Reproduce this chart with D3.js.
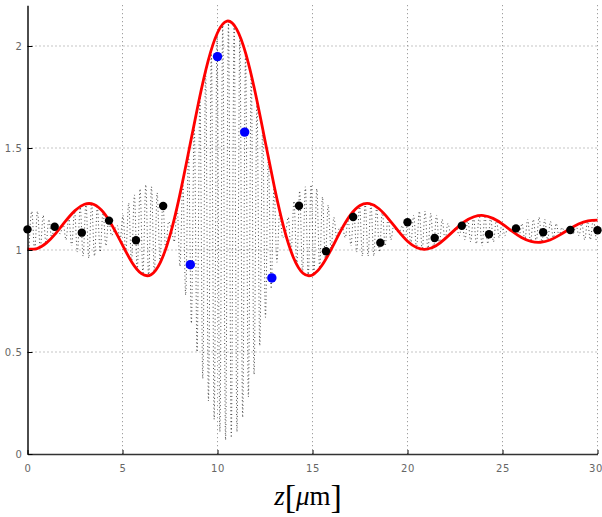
<!DOCTYPE html>
<html><head><meta charset="utf-8"><script src="https://cdn.jsdelivr.net/npm/d3@7"></script>
<style>html,body{margin:0;padding:0;background:#fff}svg{display:block}</style></head>
<body><svg id="c" width="602" height="517"></svg>
<script>
// ---- data ----
const xTicks = [0, 5, 10, 15, 20, 25, 30];
const yTicks = [0, 0.5, 1, 1.5, 2];
const xTickLabels = ["0", "5", "10", "15", "20", "25", "30"];
const yTickLabels = ["0", "0.5", "1", "1.5", "2"];

// red envelope curve, sampled every 0.5 µm from z = 0
const envStart = 0, envStep = 0.5;
const envValues = [
 1.005,1.007,1.035,1.083,1.141,1.193,1.224,1.223,1.184,1.112,
 1.024,0.939,0.884,0.879,0.941,1.072,1.263,1.490,1.722,1.925,
 2.065,2.122,2.084,1.959,1.766,1.537,1.306,1.106,0.962,0.886,
 0.878,0.925,1.006,1.096,1.172,1.218,1.227,1.202,1.153,1.095,
 1.043,1.011,1.004,1.021,1.057,1.100,1.139,1.163,1.169,1.155,
 1.127,1.092,1.061,1.042,1.038,1.049,1.073,1.101,1.127,1.143,
 1.146];

// interference fringes: successive peak / trough values, one every 0.15 µm from z = 0.075
const fringeStart = 0.075, fringeStep = 0.15;
const fringeValues = [
 1.00,1.19,1.00,1.19,1.01,1.17,1.03,1.15,1.06,1.12,1.09,1.08,1.13,1.05,1.16,1.02,
 1.19,0.99,1.21,0.97,1.23,0.96,1.23,0.97,1.21,0.99,1.19,1.02,1.15,1.07,1.10,1.12,
 1.05,1.17,0.99,1.23,0.94,1.27,0.90,1.30,0.88,1.32,0.87,1.31,0.89,1.28,0.94,1.23,
 1.00,1.14,1.10,1.04,1.21,0.92,1.34,0.78,1.48,0.64,1.62,0.50,1.76,0.37,1.88,0.26,
 1.98,0.17,2.06,0.11,2.11,0.07,2.12,0.08,2.10,0.11,2.05,0.18,1.97,0.28,1.86,0.39,
 1.73,0.53,1.60,0.67,1.45,0.81,1.32,0.94,1.19,1.06,1.08,1.16,0.99,1.24,0.93,1.29,
 0.89,1.31,0.87,1.32,0.88,1.30,0.91,1.26,0.95,1.22,1.00,1.16,1.06,1.11,1.11,1.06,
 1.15,1.02,1.19,0.99,1.22,0.97,1.23,0.97,1.23,0.97,1.21,0.99,1.19,1.02,1.16,1.05,
 1.12,1.09,1.09,1.12,1.05,1.15,1.03,1.17,1.01,1.19,1.00,1.19,1.00,1.18,1.01,1.17,
 1.03,1.15,1.05,1.13,1.08,1.10,1.11,1.07,1.13,1.05,1.15,1.04,1.16,1.03,1.17,1.02,
 1.17,1.03,1.16,1.04,1.15,1.06,1.13,1.07,1.11,1.10,1.09,1.12,1.07,1.13,1.05,1.15,
 1.04,1.15,1.04,1.16,1.04,1.15,1.05,1.14,1.06,1.13,1.07,1.11,1.09,1.10,1.11,1.08,
 1.12,1.07,1.13,1.05,1.14,1.05,1.15,1.05];

// sampled points (black) and highlighted samples (blue)
const blackZ = [0,1.43,2.86,4.29,5.71,7.14,14.29,15.71,17.14,18.57,20,21.43,22.86,24.29,25.71,27.14,28.57,30];
const blackI = [1.101,1.114,1.085,1.144,1.048,1.216,1.217,0.994,1.162,1.036,1.136,1.059,1.119,1.077,1.106,1.087,1.098,1.097];
const blueZ = [8.57,10,11.43,12.86];
const blueI = [0.928,1.948,1.578,0.863];

// ---- drawing ----
const svg = d3.select("#c");
const x = d3.scaleLinear().domain([0,30]).range([27.5,597.5]);
const y = d3.scaleLinear().domain([0,2.2]).range([454,5.2]);

const grid = svg.append("g");
grid.selectAll("line.vx").data(xTicks.filter(d=>d>0)).join("line")
  .attr("x1",d=>x(d)).attr("x2",d=>x(d)).attr("y1",y(2.2)).attr("y2",y(0))
  .attr("stroke","#8a8a8a").attr("stroke-width",1).attr("stroke-dasharray","1,3");
grid.selectAll("line.hy").data(yTicks.filter(d=>d>0)).join("line")
  .attr("x1",x(0)).attr("x2",x(30)).attr("y1",d=>y(d)).attr("y2",d=>y(d))
  .attr("stroke","#8a8a8a").attr("stroke-width",1).attr("stroke-dasharray","1,3");

const fringe = fringeValues.map((v,i)=>[fringeStart+i*fringeStep, v]);
svg.append("path").datum(fringe)
  .attr("d", d3.line().x(d=>x(d[0])).y(d=>y(d[1])).curve(d3.curveMonotoneX))
  .attr("fill","none").attr("stroke","#333").attr("stroke-width",0.9)
  .attr("stroke-dasharray","1,2.6");

const env = envValues.map((v,i)=>[envStart+i*envStep, v]);
svg.append("path").datum(env)
  .attr("d", d3.line().x(d=>x(d[0])).y(d=>y(d[1])).curve(d3.curveNatural))
  .attr("fill","none").attr("stroke","#ff0000").attr("stroke-width",2.8);

// axes
const xAxis = d3.axisBottom(x).tickValues(xTicks).tickFormat((d,i)=>xTickLabels[i]).tickSizeInner(-4).tickSizeOuter(0).tickPadding(11);
const yAxis = d3.axisLeft(y).tickValues(yTicks).tickFormat((d,i)=>yTickLabels[i]).tickSizeInner(-5).tickSizeOuter(0).tickPadding(5);
const gx = svg.append("g").attr("transform","translate(0,454)").call(xAxis);
const gy = svg.append("g").attr("transform","translate(27.5,0)").call(yAxis);
gx.select(".domain").attr("stroke","#333").attr("stroke-width",1.6);
gy.select(".domain").attr("stroke","#000").attr("stroke-width",1.4);
[gx,gy].forEach(g=>{
  g.selectAll(".tick line").attr("stroke","#000").attr("stroke-width",1);
  g.selectAll(".tick text").attr("fill","#666").attr("font-family","DejaVu Sans")
   .attr("font-size",10).attr("letter-spacing","0.6px");
});
gx.selectAll(".tick text").filter((d,i)=>i===xTicks.length-1).attr("text-anchor","end").attr("dx","5");

svg.append("g").selectAll("circle").data(blackZ).join("circle")
  .attr("cx",d=>x(d)).attr("cy",(d,i)=>y(blackI[i])).attr("r",4.2).attr("fill","#000");
svg.append("g").selectAll("circle").data(blueZ).join("circle")
  .attr("cx",d=>x(d)).attr("cy",(d,i)=>y(blueI[i])).attr("r",4.7).attr("fill","#0000ff");

// axis title z[µm]
const t = svg.append("text").attr("x",308).attr("y",505).attr("text-anchor","middle")
  .attr("font-family","Liberation Serif").attr("font-size",27).attr("fill","#000");
t.append("tspan").attr("font-style","italic").text("z");
t.append("tspan").attr("font-size",34).attr("dy",3).text("[");
t.append("tspan").attr("font-style","italic").attr("dy",-3).text("μ");
t.append("tspan").text("m");
t.append("tspan").attr("font-size",34).attr("dy",3).text("]");
</script></body></html>
